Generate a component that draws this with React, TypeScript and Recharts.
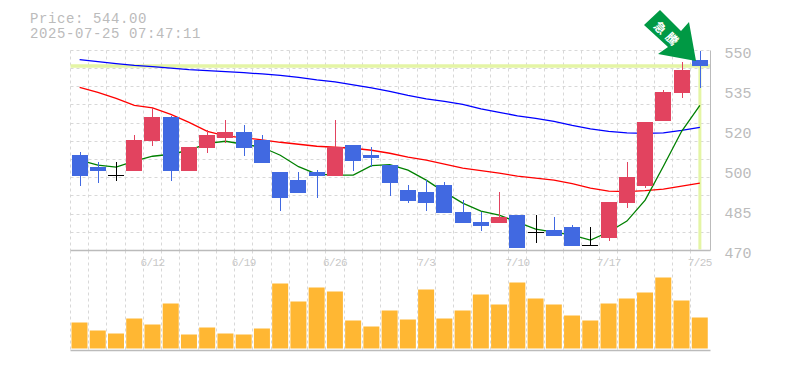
import { Bar, BarChart, CartesianGrid, ComposedChart, Line, ReferenceLine, XAxis, YAxis } from "recharts";

const dates = ["6/6", "6/9", "6/10", "6/11", "6/12", "6/13", "6/16", "6/17", "6/18", "6/19", "6/20", "6/23", "6/24", "6/25", "6/26", "6/27", "6/30", "7/1", "7/2", "7/3", "7/4", "7/7", "7/8", "7/9", "7/10", "7/11", "7/14", "7/15", "7/16", "7/17", "7/18", "7/22", "7/23", "7/24", "7/25"];
const dateTicks = ["6/12", "6/19", "6/26", "7/3", "7/10", "7/17", "7/25"];

const opens = [508.2, 503.4, 500.2, 501.8, 513.8, 523.4, 501.8, 511, 515, 517.4, 514.2, 501.4, 498.2, 501.4, 499.8, 512.2, 508.2, 504.2, 494.2, 493.4, 496.2, 485.4, 481.4, 481, 484.2, 477.4, 478.2, 479.4, 472.2, 475, 489, 495.8, 521.8, 533, 546.2];
const highs = [509.4, 505.4, 505.4, 516.2, 527, 523.8, 511.4, 518.2, 522.2, 520.2, 516.2, 501.4, 501.4, 502.2, 522.2, 512.2, 511.4, 504.2, 496.2, 498.2, 497.4, 490.2, 485.4, 493.4, 484.2, 484.2, 483.4, 480.2, 479.4, 489.4, 505.4, 521.4, 534.2, 545.4, 550.2];
const lows = [495.8, 497, 497.8, 501.8, 511.8, 497.8, 501.8, 509, 513, 507.8, 505, 485.8, 493, 491, 499.8, 501.8, 503.4, 491.8, 489, 485.8, 485, 481, 477.8, 481, 471, 473, 475.8, 471.8, 472.2, 473.8, 487, 495, 521.8, 531, 535.4];
const closes = [499.8, 501.8, 500.2, 514.2, 523.4, 501.8, 511.4, 516.2, 517.4, 511, 505, 491, 493, 499.8, 511.4, 505.8, 507, 497, 489.8, 489, 485, 481, 479.8, 483.4, 471, 477.4, 475.8, 471.8, 472.2, 489.4, 499.4, 521.4, 533.4, 542.2, 544];

const maShort = [506.2, 504.2, 503.4, 505.8, 507.8, 508.6, 510.2, 513, 513.8, 512.6, 511.4, 508.2, 503.6, 500.6, 500.2, 500.2, 504, 504.4, 502.2, 498.2, 493.4, 489, 485.8, 484.2, 481.4, 478.6, 477.4, 476.2, 474.2, 477.4, 481.8, 490.2, 503.8, 517.8, 528.2];
const maMid = [535.4, 533.4, 531, 528.2, 527.2, 524.6, 521.4, 517.8, 516, 515.2, 514.4, 513.4, 512.6, 511.8, 511.4, 511, 510.2, 509, 507.4, 506.2, 504.6, 503, 502, 501, 499.8, 499, 498.2, 496.8, 495, 493.8, 493.6, 494, 494.6, 495.8, 497];
const maLong = [546.5, 545.7, 544.9, 544.2, 543.7, 543.1, 542.5, 542.1, 541.7, 541.3, 540.8, 540.2, 539.4, 538.4, 537.6, 536.4, 535.2, 533.8, 532.2, 530.8, 529.8, 528.6, 526.8, 525.4, 524, 523, 521.8, 520.2, 518.8, 517.8, 517.2, 517, 517.2, 518.2, 519.4];

const volumes = [260, 180, 150, 300, 240, 450, 140, 210, 150, 140, 200, 650, 470, 610, 570, 280, 220, 380, 290, 590, 300, 380, 540, 440, 660, 500, 440, 330, 280, 450, 500, 560, 710, 480, 310];

const priceMin = 470;
const priceMax = 550;
const priceTicks = [470, 486, 502, 518, 534, 550];
const priceLabels = ["470", "485", "500", "520", "535", "550"];
const gridPrices = [477.3, 484.5, 491.8, 499.1, 506.4, 513.6, 520.9, 528.2, 535.5, 542.7, 550];
const lastPrice = 544;

const priceRows = dates.map((date, i) => ({
  date,
  open: opens[i],
  high: highs[i],
  low: lows[i],
  close: closes[i],
  range: [lows[i], highs[i]],
  maShort: maShort[i],
  maMid: maMid[i],
  maLong: maLong[i],
}));
const volumeRows = dates.map((date, i) => ({ date, volume: volumes[i] }));

const UP = "#e2435f";
const DOWN = "#4169e1";
const FLAT = "#000000";
const GRID = "#d8d8d8";
const FRAME = "#bbbbbb";
const TEXT = "#bbbbbb";
const MONO = "'Liberation Mono', monospace";

const bandGrid = ({ offset }: any) => {
  const step = (offset.width - 1.5) / dates.length;
  return dates.map((_, i) => Math.floor(offset.left + i * step) + 0.5);
};

// snap the dashed rows to whole pixels so they stay as dark as the reference
const priceGrid = ({ offset }: any) =>
  gridPrices.map((v) => Math.floor(offset.top + ((priceMax - v) / (priceMax - priceMin)) * offset.height) + 0.5);

function Candle(props: any) {
  const { x, y, width, height, payload } = props;
  const perUnit = height / (payload.high - payload.low);
  const toY = (v: number) => y + (payload.high - v) * perUnit;
  const top = Math.round(toY(Math.max(payload.open, payload.close)));
  const bottom = Math.round(toY(Math.min(payload.open, payload.close)));
  const color = payload.close > payload.open ? UP : payload.close < payload.open ? DOWN : FLAT;
  const mid = Math.round(x + width / 2);
  return (
    <g>
      <rect x={mid} y={Math.round(y)} width={1} height={Math.round(height)} fill={color} />
      <rect x={mid - 8} y={top} width={16} height={Math.max(bottom - top, 1)} fill={color} />
    </g>
  );
}

export default function App() {
  return (
    <div style={{ position: "absolute", left: 0, top: 0, width: 785, height: 370, background: "#fff" }}>
      <div style={{ position: "absolute", left: 0, top: 0 }}>
        <BarChart width={785} height={370} data={volumeRows} margin={{ top: 250.5, right: 74.5, bottom: 19.5, left: 70.5 }} barSize={16}>
          <CartesianGrid horizontal={false} stroke={GRID} strokeDasharray="3 3" verticalCoordinatesGenerator={bandGrid} />
          <XAxis dataKey="date" hide padding={{ left: 0, right: 1.5 }} />
          <YAxis orientation="right" width={0} domain={[-20, 980]} tick={false} tickLine={false} axisLine={{ stroke: FRAME }} />
          <ReferenceLine y={-20} stroke={FRAME} strokeWidth={1.5} />
          <Bar dataKey="volume" fill="#ffb733" isAnimationActive={false} />
        </BarChart>
      </div>
      <div style={{ position: "absolute", left: 0, top: 0 }}>
        <ComposedChart width={785} height={370} data={priceRows} margin={{ top: 50.5, right: 34.5, bottom: 99.5, left: 70.5 }} barSize={16}>
          <CartesianGrid stroke={GRID} strokeDasharray="3 3" horizontalCoordinatesGenerator={priceGrid} verticalCoordinatesGenerator={bandGrid} />
          <XAxis
            dataKey="date"
            height={20}
            ticks={dateTicks}
            interval={0}
            tickLine={false}
            axisLine={{ stroke: FRAME, strokeWidth: 1.5 }}
            tickMargin={2}
            padding={{ left: 0, right: 1.5 }}
            tick={{ fontSize: 11, fontFamily: MONO, fill: "#c8c8c8", letterSpacing: -0.6 }}
          />
          <YAxis
            orientation="right"
            width={40}
            domain={[priceMin, priceMax]}
            ticks={priceTicks}
            tickFormatter={(v: number) => priceLabels[priceTicks.indexOf(v)]}
            tickLine={false}
            axisLine={{ stroke: FRAME }}
            tickMargin={8}
            dy={2}
            tick={{ fontSize: 15, fontFamily: MONO, fill: TEXT }}
          />
          <ReferenceLine y={lastPrice} stroke="#e4f5a5" strokeWidth={3.5} />
          <ReferenceLine
            segment={[{ x: "7/25", y: 470.4 }, { x: "7/25", y: lastPrice }]}
            stroke="#e4f5a5"
            strokeWidth={3}
          />
          <Line dataKey="maLong" stroke="#0000ff" strokeWidth={1.3} dot={false} isAnimationActive={false} />
          <Line dataKey="maMid" stroke="#ff0000" strokeWidth={1.3} dot={false} isAnimationActive={false} />
          <Line dataKey="maShort" stroke="#008000" strokeWidth={1.3} dot={false} isAnimationActive={false} />
          <Bar dataKey="range" shape={Candle} isAnimationActive={false} zIndex={500} />
        </ComposedChart>
      </div>
      <svg width={785} height={370} style={{ position: "absolute", left: 0, top: 0 }}>
        <text x={30} y={23} fontFamily={MONO} fontSize={14} letterSpacing={0.6} fill={TEXT}>Price: 544.00</text>
        <text x={30} y={38} fontFamily={MONO} fontSize={14} letterSpacing={0.6} fill={TEXT}>2025-07-25 07:47:11</text>
        <polygon points="660,10 644,25 668,47 658,54 696,61 689,22 681,31" fill="#009944" />
        <text x={661} y={27} transform="rotate(45 661 27)" textAnchor="middle" dominantBaseline="central" fontFamily="'Noto Sans CJK JP'" fontWeight={700} fontSize={12} fill="#fff">急</text>
        <text x={673} y={38} transform="rotate(45 673 38)" textAnchor="middle" dominantBaseline="central" fontFamily="'Noto Sans CJK JP'" fontWeight={700} fontSize={12} fill="#fff">騰</text>
      </svg>
    </div>
  );
}
